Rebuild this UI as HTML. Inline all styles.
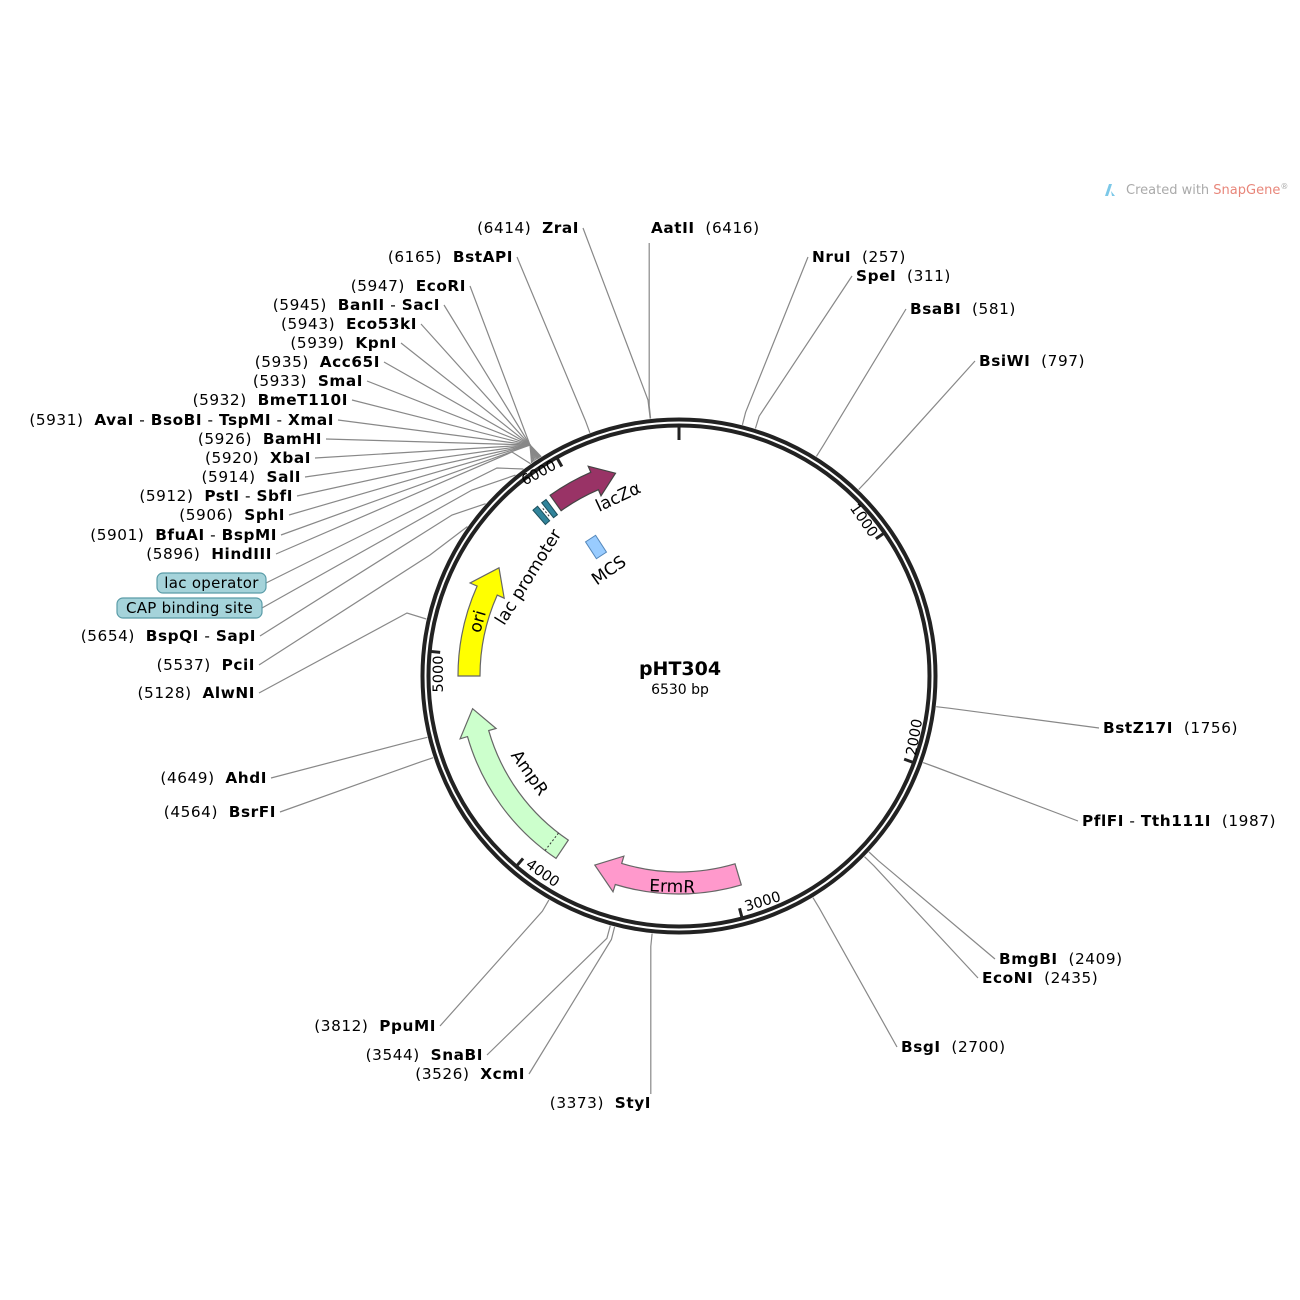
<!DOCTYPE html>
<html><head><meta charset="utf-8"><style>
html,body{margin:0;padding:0;background:#fff;width:1300px;height:1300px;overflow:hidden}
svg{display:block}
text{font-family:"DejaVu Sans","Liberation Sans",sans-serif;font-size:14.5px;fill:#000}
#lab text{font-size:15.3px;letter-spacing:0.55px}
.b{font-weight:bold}
</style></head><body>
<svg id="s" width="1300" height="1300" viewBox="0 0 1300 1300" xmlns="http://www.w3.org/2000/svg">
<g id="lines" stroke="#888" stroke-width="1.2" fill="none"></g>
<circle cx="679" cy="676" r="256.5" fill="none" stroke="#222" stroke-width="4"/>
<circle cx="679" cy="676" r="250.5" fill="none" stroke="#222" stroke-width="4"/>
<g id="feat"></g>
<g id="lab"></g>
<text x="680" y="675" text-anchor="middle" class="b" style="font-size:19px">pHT304</text>
<text x="680" y="694" text-anchor="middle" style="font-size:14px">6530 bp</text>
<text x="599" y="512" transform="rotate(-25 599 512)" style="font-size:17px">lacZα</text>
<text x="533" y="580" text-anchor="middle" transform="rotate(-58 533 580)" style="font-size:17px">lac promoter</text>
<text x="612" y="575" text-anchor="middle" transform="rotate(-35 612 575)" style="font-size:17px">MCS</text>
<text x="483" y="623" text-anchor="middle" transform="rotate(-74 483 623)" style="font-size:17px">ori</text>
<text x="525" y="776" text-anchor="middle" transform="rotate(55 525 776)" style="font-size:17px">AmpR</text>
<text x="672" y="892" text-anchor="middle" transform="rotate(2 672 892)" style="font-size:17px">ErmR</text>
<g style="font-size:14px">
<text x="860" y="523" text-anchor="middle" transform="rotate(55 860 523)">1000</text>
<text x="919" y="738" text-anchor="middle" transform="rotate(-80 919 738)">2000</text>
<text x="764" y="906" text-anchor="middle" transform="rotate(-17 764 906)">3000</text>
<text x="540" y="877" text-anchor="middle" transform="rotate(35 540 877)">4000</text>
<text x="443" y="674" text-anchor="middle" transform="rotate(-90 443 674)">5000</text>
<text x="541" y="477" text-anchor="middle" transform="rotate(-28 541 477)">6000</text>
</g>
<g transform="translate(1103,182)"><path d="M2 14 L6 2 L9 2 L5 14Z" fill="#7cc8e8"/><path d="M8 9 L12 14 L9 14Z" fill="#7cc8e8"/></g>
<text x="1126" y="194" style="font-size:13px;fill:#aaa">Created with <tspan style="fill:#e8867a">SnapGene</tspan><tspan style="font-size:8px" dy="-5">®</tspan></text>
</svg>
<script>
var cx=679,cy=676,N=6530,NS="http://www.w3.org/2000/svg";
function P(t,r){var a=t*Math.PI/180;return [cx+r*Math.sin(a),cy-r*Math.cos(a)];}
function f(p){return p[0].toFixed(1)+","+p[1].toFixed(1);}
function el(par,tag,attrs,txt){var e=document.createElementNS(NS,tag);for(var k in attrs)e.setAttribute(k,attrs[k]);if(txt!=null)e.textContent=txt;document.getElementById(par).appendChild(e);return e;}
function arrow(a,b,r1,r2,hd,fill,stroke){
 var rm=(r1+r2)/2,w=(r2-r1),h1=rm-w*0.85,h2=rm+w*0.85,c=b-hd;
 var d="M"+f(P(a,r2))+" A"+r2+","+r2+" 0 0 1 "+f(P(c,r2))+" L"+f(P(c,h2))+" L"+f(P(b,rm))+" L"+f(P(c,h1))+" L"+f(P(c,r1))+" A"+r1+","+r1+" 0 0 0 "+f(P(a,r1))+" Z";
 el("feat","path",{d:d,fill:fill,stroke:stroke||"#666","stroke-width":1.2});
}
function seg(a,b,r1,r2,fill,stroke){
 var d="M"+f(P(a,r2))+" A"+r2+","+r2+" 0 0 1 "+f(P(b,r2))+" L"+f(P(b,r1))+" A"+r1+","+r1+" 0 0 0 "+f(P(a,r1))+" Z";
 el("feat","path",{d:d,fill:fill,stroke:stroke,"stroke-width":1});
}
arrow(270,301,199,221,7,"#ffff00");
arrow(214,261,198,220,7,"#ccffcc");
arrow(163.4,204,196,218,7,"#ff99cc");
arrow(324.5,342.6,203,222,6,"#993366","#444");
seg(318.6,320.2,202,221,"#31849b","#1d4f5c");
seg(321.6,323.0,202,221,"#31849b","#1d4f5c");
var q1=P(320.9,206),q2=P(320.9,217);el("feat","line",{x1:q1[0],y1:q1[1],x2:q2[0],y2:q2[1],stroke:"#333","stroke-dasharray":"2,2"});
var q3=P(217.5,198),q4=P(217.5,220);el("feat","line",{x1:q3[0],y1:q3[1],x2:q4[0],y2:q4[1],stroke:"#333","stroke-dasharray":"2,2"});
el("feat","rect",{x:-6,y:-10,width:12,height:20,fill:"#99ccff",stroke:"#5588bb","stroke-width":1,transform:"translate(596,547) rotate(-33)"});
[0,1000,2000,3000,4000,5000,6000].forEach(function(v){var t=v/N*360,a=P(t,252),b=P(t,(v==0)?236:240);el("feat","line",{x1:a[0],y1:a[1],x2:b[0],y2:b[1],stroke:"#222","stroke-width":3});});
var S=[
[6414,"ZraI","(6414)",579,233,"L",[648,400]],
[6165,"BstAPI","(6165)",513,262,"L"],
[5947,"EcoRI","(5947)",466,291,"L",[530,445]],
[5945,"BanII - SacI","(5945)",440,310,"L",[530,445]],
[5943,"Eco53kI","(5943)",417,329,"L",[530,445]],
[5939,"KpnI","(5939)",397,348,"L",[530,445]],
[5935,"Acc65I","(5935)",380,367,"L",[530,445]],
[5933,"SmaI","(5933)",363,386,"L",[530,445]],
[5932,"BmeT110I","(5932)",348,405,"L",[530,445]],
[5931,"AvaI - BsoBI - TspMI - XmaI","(5931)",334,425,"L",[530,445]],
[5926,"BamHI","(5926)",322,444,"L",[530,445]],
[5920,"XbaI","(5920)",311,463,"L",[530,445]],
[5914,"SalI","(5914)",301,482,"L",[530,445]],
[5912,"PstI - SbfI","(5912)",293,501,"L",[530,445]],
[5906,"SphI","(5906)",285,520,"L",[530,445]],
[5901,"BfuAI - BspMI","(5901)",277,540,"L",[530,445]],
[5896,"HindIII","(5896)",272,559,"L",[512,452]],
[5654,"BspQI - SapI","(5654)",256,641,"L",[452,515]],
[5537,"PciI","(5537)",255,670,"L",[430,555]],
[5128,"AlwNI","(5128)",255,698,"L",[407,613]],
[4649,"AhdI","(4649)",267,783,"L"],
[4564,"BsrFI","(4564)",276,817,"L"],
[3812,"PpuMI","(3812)",436,1031,"L"],
[3544,"SnaBI","(3544)",483,1060,"L"],
[3526,"XcmI","(3526)",525,1079,"L"],
[3373,"StyI","(3373)",651,1108,"L",null,1],
[6416,"AatII","(6416)",651,233,"R",null,1],
[257,"NruI","(257)",812,262,"R"],
[311,"SpeI","(311)",856,281,"R"],
[581,"BsaBI","(581)",910,314,"R"],
[797,"BsiWI","(797)",979,366,"R"],
[1756,"BstZ17I","(1756)",1103,733,"R"],
[1987,"PflFI - Tth111I","(1987)",1082,826,"R"],
[2409,"BmgBI","(2409)",999,964,"R"],
[2435,"EcoNI","(2435)",982,983,"R"],
[2700,"BsgI","(2700)",901,1052,"R"]];
S.forEach(function(s){
 var t=s[0]/N*360,a=P(t,259),b=s[6]||P(t,272),end;
 if(s[7]){ b=P(t,272); end=[b[0],s[5]=="L"?s[4]-14:s[4]+10]; }
 else end=(s[5]=="L")?[s[3]+4,s[4]-5]:[s[3]-4,s[4]-5];
 el("lines","polyline",{points:f(a)+" "+f(b)+" "+f(end)});
 var g=el("lab","text",{x:s[3],y:s[4],"text-anchor":s[5]=="L"?"end":"start"});
 if(s[5]=="L"){g.innerHTML=s[2]+"\u00a0 <tspan style='font-weight:bold'>"+s[1].replace(/ - /g,"</tspan> - <tspan style='font-weight:bold'>")+"</tspan>";}
 else{g.innerHTML="<tspan style='font-weight:bold'>"+s[1].replace(/ - /g,"</tspan> - <tspan style='font-weight:bold'>")+"</tspan>\u00a0 "+s[2];}
});
[[5860,"lac operator",157,573,109],[5820,"CAP binding site",117,598,145]].forEach(function(s,i){
 var t=s[0]/N*360,a=P(t,259),b=i==0?[497,468]:[472,490];
 el("lines","polyline",{points:f(a)+" "+f(b)+" "+(s[2]+s[4])+","+(s[3]+10)});
 el("lab","rect",{x:s[2],y:s[3],width:s[4],height:20,rx:6,fill:"#a5d3da",stroke:"#5a9ca8","stroke-width":1.2});
 el("lab","text",{x:s[2]+s[4]/2,y:s[3]+15,"text-anchor":"middle",style:"font-size:15px;letter-spacing:0.3px"},s[1]);
});
</script>
</body></html>
